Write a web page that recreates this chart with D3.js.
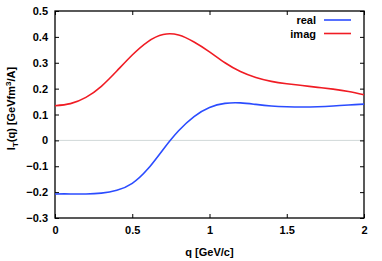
<!DOCTYPE html>
<html><head><meta charset="utf-8">
<script src="https://cdn.jsdelivr.net/npm/d3@7/dist/d3.min.js"></script>
<style>body{margin:0;background:#fff}svg{display:block}text{font-family:"Liberation Sans",Arial,sans-serif;font-weight:bold}</style>
</head><body>
<svg id="c" width="382" height="261"></svg>
<script>
const qGrid = [0, 0.1, 0.2, 0.3, 0.4, 0.5, 0.6, 0.7, 0.8, 0.9, 1.0, 1.1, 1.2, 1.3, 1.4, 1.5, 1.6, 1.7, 1.8, 1.9, 2.0];
const realV = [-0.207, -0.207, -0.207, -0.204, -0.193, -0.166, -0.111, -0.035, 0.037, 0.092, 0.127, 0.143, 0.145, 0.139, 0.133, 0.130, 0.129, 0.130, 0.133, 0.137, 0.140];
const imagV = [0.134, 0.142, 0.166, 0.209, 0.268, 0.330, 0.381, 0.409, 0.407, 0.380, 0.342, 0.300, 0.266, 0.243, 0.228, 0.219, 0.212, 0.205, 0.198, 0.189, 0.176];
const xTicks = [0, 0.5, 1, 1.5, 2];
const yTicks = [-0.3, -0.2, -0.1, 0, 0.1, 0.2, 0.3, 0.4, 0.5];
const seriesNames = ["real", "imag"];
const seriesColors = ["#2b4cff", "#f01c24"];

const svg = d3.select("#c");
const L = 55, R = 364, T = 11, B = 218;
const x = d3.scaleLinear().domain([0, 2]).range([L, R]);
const y = d3.scaleLinear().domain([-0.3, 0.5]).range([B, T]);

svg.append("line").attr("x1", L).attr("x2", R).attr("y1", y(0)).attr("y2", y(0))
  .attr("stroke", "#d0d8d8").attr("stroke-width", 1);

const fmt = d => String(d);
const tl = 4;
svg.append("g").attr("transform", `translate(0,${B})`)
  .call(d3.axisBottom(x).tickValues(xTicks).tickSize(-tl).tickPadding(8).tickFormat(fmt))
  .call(g => g.select(".domain").remove());
svg.append("g").attr("transform", `translate(0,${T})`)
  .call(d3.axisTop(x).tickValues(xTicks).tickSize(-tl).tickFormat(""))
  .call(g => g.select(".domain").remove());
svg.append("g").attr("transform", `translate(${L},0)`)
  .call(d3.axisLeft(y).tickValues(yTicks).tickSize(-tl).tickPadding(7).tickFormat(d => Math.abs(d) < 1e-9 ? "0" : d3.format(".1f")(d)))
  .call(g => g.select(".domain").remove());
svg.append("g").attr("transform", `translate(${R},0)`)
  .call(d3.axisRight(y).tickValues(yTicks).tickSize(-tl).tickFormat(""))
  .call(g => g.select(".domain").remove());
svg.selectAll(".tick text").attr("font-size", 11).attr("font-weight", "bold")
  .attr("font-family", "'Liberation Sans',Arial,sans-serif").attr("fill", "#000");
svg.selectAll(".tick line").attr("stroke", "#000");

svg.append("rect").attr("x", L).attr("y", T).attr("width", R - L).attr("height", B - T)
  .attr("fill", "none").attr("stroke", "#000").attr("stroke-width", 1.3);

const line = d3.line().curve(d3.curveNatural).x(d => x(d[0])).y(d => y(d[1]));
const realData = qGrid.map((q, i) => [q, realV[i]]);
const imagData = qGrid.map((q, i) => [q, imagV[i]]);
[realData, imagData].forEach((dat, i) => {
  svg.append("path").datum(dat).attr("d", line).attr("fill", "none")
    .attr("stroke", seriesColors[i]).attr("stroke-width", 1.6);
});

seriesNames.forEach((n, i) => {
  const ly = 20 + i * 13.5;
  svg.append("text").attr("x", 316).attr("y", ly + 4).attr("text-anchor", "end")
    .attr("font-size", 11).text(n);
  svg.append("line").attr("x1", 324).attr("x2", 351).attr("y1", ly).attr("y2", ly)
    .attr("stroke", seriesColors[i]).attr("stroke-width", 1.6);
});

svg.append("text").attr("x", (L + R) / 2).attr("y", 256).attr("text-anchor", "middle")
  .attr("font-size", 11).text("q [GeV/c]");
const yt = svg.append("text").attr("transform", `translate(15,${(T + B) / 2 - 6}) rotate(-90)`)
  .attr("text-anchor", "middle").attr("font-size", 11);
yt.append("tspan").text("I");
yt.append("tspan").attr("font-size", 8).attr("dy", 3).text("T");
yt.append("tspan").attr("dy", -3).text("(q) [GeVfm");
yt.append("tspan").attr("font-size", 8).attr("dy", -4).text("3");
yt.append("tspan").attr("dy", 4).text("/A]");
</script>
</body></html>
